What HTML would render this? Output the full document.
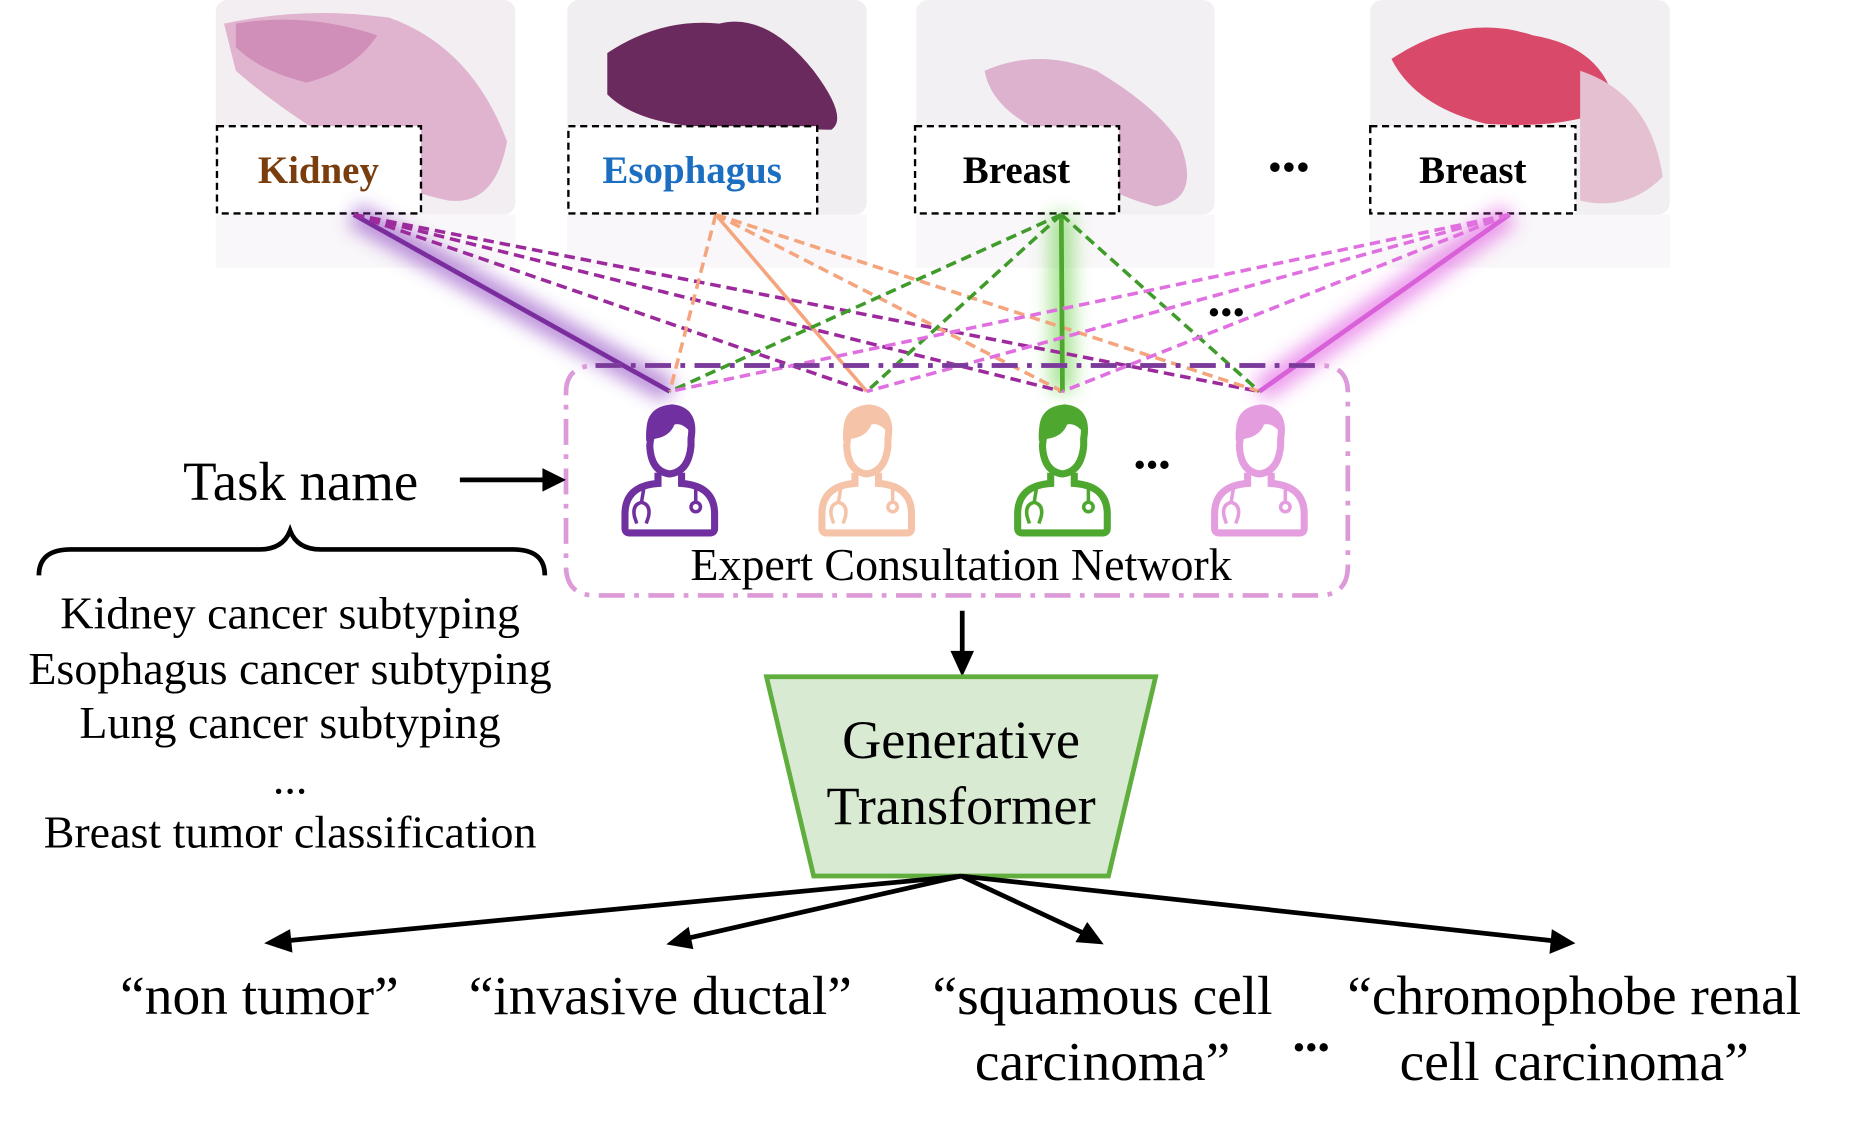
<!DOCTYPE html>
<html><head><meta charset="utf-8"><style>html,body{margin:0;padding:0;background:#fff}svg{display:block}</style></head><body>
<svg width="1849" height="1126" viewBox="0 0 1568 955" preserveAspectRatio="none" xmlns="http://www.w3.org/2000/svg" font-family="Liberation Serif, serif">
<defs>
<filter id="gl" x="-50%" y="-50%" width="200%" height="200%"><feGaussianBlur stdDeviation="8"/></filter>
<g id="doc">
 <path d="M-16,-48 Q-20,-70 2,-72 Q22,-70 18,-46 L18,-40 Q16,-18 0,-16 Q-16,-18 -17,-40 Z" fill="none" stroke="currentColor" stroke-width="6"/>
 <path d="M-20,-44 Q-22,-74 2,-74 Q24,-72 20,-48 Q12,-60 4,-58 Q0,-48 -12,-46 Z" fill="currentColor"/>
 <path d="M-10,-17 L-10,-8 Q-38,-6 -38,18 L-38,30 Q-38,34 -34,34 L34,34 Q38,34 38,30 L38,18 Q38,-6 10,-8 L10,-17" fill="none" stroke="currentColor" stroke-width="6"/>
 <path d="M-22,-4 L-24,8 Q-32,10 -30,20 L-28,26 M-24,8 Q-16,10 -18,20 L-20,26" fill="none" stroke="currentColor" stroke-width="3"/>
 <path d="M22,-4 L22,8" stroke="currentColor" stroke-width="3"/>
 <circle cx="22" cy="12" r="4" fill="none" stroke="currentColor" stroke-width="3"/>
</g>
</defs>
<g>
<rect x="183" y="0" width="254" height="182" rx="10" fill="#f2eef2"/>
<path d="M190,20 Q260,5 330,15 Q400,40 430,120 Q420,175 380,170 Q330,160 300,130 Q240,95 200,60 Z" fill="#e0b4cf"/>
<path d="M200,20 Q260,10 320,30 Q300,60 260,70 Q220,60 200,40Z" fill="#cf8fb8"/>
<rect x="481" y="0" width="254" height="182" rx="10" fill="#f1eef1"/>
<path d="M515,45 Q560,15 610,20 Q650,10 690,60 Q720,100 705,110 L600,108 Q540,105 515,80 Z" fill="#6b2a5e"/>
<rect x="777" y="0" width="253" height="182" rx="10" fill="#f3f0f3"/>
<path d="M835,60 Q880,40 930,60 Q980,90 1000,120 Q1020,170 980,175 Q920,160 880,110 Q840,90 835,60Z" fill="#dcb2cf"/>
<rect x="1162" y="0" width="254" height="182" rx="10" fill="#f1eff2"/>
<path d="M1180,50 Q1240,10 1300,30 Q1360,40 1370,90 Q1330,110 1260,105 Q1200,90 1180,50Z" fill="#d94a6a"/>
<path d="M1340,60 Q1400,80 1410,150 Q1380,180 1340,170 Z" fill="#e5c0d0"/>
<rect x="183" y="182" width="254" height="45" fill="#f6f4f6" opacity="0.7"/>
<rect x="481" y="182" width="254" height="45" fill="#f6f4f6" opacity="0.7"/>
<rect x="777" y="182" width="253" height="45" fill="#f6f4f6" opacity="0.7"/>
<rect x="1162" y="182" width="254" height="45" fill="#f6f4f6" opacity="0.7"/>
</g>
<g stroke="#000" stroke-width="2" stroke-dasharray="6,4" fill="#fff">
<rect x="184" y="107" width="173" height="74"/><rect x="482" y="107" width="211" height="74"/>
<rect x="776" y="107" width="173" height="74"/><rect x="1162" y="107" width="174" height="74"/>
</g>
<g font-size="33" font-weight="bold" text-anchor="middle">
<text x="270" y="155" fill="#7a3d0e">Kidney</text><text x="587" y="155" fill="#1c6fc0">Esophagus</text>
<text x="862" y="155">Breast</text><text x="1249" y="155">Breast</text>
</g>
<text x="1093" y="153" font-size="34" text-anchor="middle">•••</text>
<g filter="url(#gl)" stroke-width="20" opacity="0.6">
<line x1="300" y1="182" x2="568" y2="332" stroke="#8a3cc0"/>
<line x1="900" y1="182" x2="901" y2="332" stroke="#6ad04a"/>
<line x1="1280" y1="182" x2="1068" y2="332" stroke="#e050e0"/>
</g>
<g stroke-width="3" fill="none">
<line x1="300" y1="182" x2="568" y2="332" stroke="#7a2e9e" stroke-width="4"/>
<g stroke="#9c2a9c" stroke-dasharray="9,5"><line x1="300" y1="182" x2="735" y2="332"/><line x1="300" y1="182" x2="901" y2="332"/><line x1="300" y1="182" x2="1068" y2="332"/></g>
<line x1="607" y1="182" x2="735" y2="332" stroke="#f4a57d"/>
<g stroke="#f4a57d" stroke-dasharray="9,5"><line x1="607" y1="182" x2="568" y2="332"/><line x1="607" y1="182" x2="901" y2="332"/><line x1="607" y1="182" x2="1068" y2="332"/></g>
<line x1="900" y1="182" x2="901" y2="332" stroke="#4ea72e" stroke-width="4"/>
<g stroke="#3f9b2a" stroke-dasharray="9,5"><line x1="900" y1="182" x2="568" y2="332"/><line x1="900" y1="182" x2="735" y2="332"/><line x1="900" y1="182" x2="1068" y2="332"/></g>
<line x1="1280" y1="182" x2="1068" y2="332" stroke="#d860d8" stroke-width="4"/>
<g stroke="#e070e0" stroke-dasharray="9,5"><line x1="1280" y1="182" x2="568" y2="332"/><line x1="1280" y1="182" x2="735" y2="332"/><line x1="1280" y1="182" x2="901" y2="332"/></g>
</g>
<text x="1040" y="275" font-size="30" text-anchor="middle">•••</text>
<path d="M505,310 L1120,310 Q1143,310 1143,333 L1143,480 Q1143,505 1118,505 L505,505 Q480,505 480,480 L480,333 Q480,310 505,310Z" fill="none" stroke="#dd9ad8" stroke-width="4" stroke-dasharray="22,8,4,8"/>
<line x1="505" y1="310" x2="1120" y2="310" stroke="#7a3a9a" stroke-width="4" stroke-dasharray="22,8,4,8"/>
<use href="#doc" x="568" y="418" color="#7030a0"/>
<use href="#doc" x="735" y="418" color="#f5c4a8"/>
<use href="#doc" x="901" y="418" color="#4ea72e"/>
<use href="#doc" x="1068" y="418" color="#e49ddf"/>
<text x="977" y="404" font-size="30" text-anchor="middle">•••</text>
<text x="815" y="492" font-size="39" text-anchor="middle">Expert Consultation Network</text>
<text x="255" y="424" font-size="46.5" text-anchor="middle">Task name</text>
<line x1="390" y1="407" x2="462" y2="407" stroke="#000" stroke-width="4"/>
<path d="M480,407 L460,397 L460,417Z"/>
<path d="M33,488 Q33,466 60,466 L220,466 Q240,466 246,450 Q252,466 272,466 L435,466 Q462,466 462,488" fill="none" stroke="#000" stroke-width="4"/>
<g font-size="39" text-anchor="middle">
<text x="246" y="533">Kidney cancer subtyping</text>
<text x="246" y="580">Esophagus cancer subtyping</text>
<text x="246" y="626">Lung cancer subtyping</text>
<text x="246" y="673">...</text>
<text x="246" y="719">Breast tumor classification</text>
</g>
<line x1="816" y1="518" x2="816" y2="555" stroke="#000" stroke-width="4"/>
<path d="M816,574 L806,552 L826,552Z"/>
<path d="M650,574 L980,574 L940,743 L690,743Z" fill="#d9ead3" stroke="#5fae3e" stroke-width="4"/>
<g font-size="46" text-anchor="middle"><text x="815" y="643">Generative</text><text x="815" y="699">Transformer</text></g>
<g stroke="#000" stroke-width="4">
<line x1="815" y1="743" x2="242" y2="798"/><line x1="815" y1="743" x2="582" y2="796"/>
<line x1="815" y1="743" x2="920" y2="792"/><line x1="815" y1="743" x2="1318" y2="798"/>
</g>
<path d="M224,800 L246,788 L248,808Z"/><path d="M565,801 L584,786 L588,805Z"/>
<path d="M936,801 L912,799 L922,782Z"/><path d="M1336,800 L1314,809 L1316,788Z"/>
<g font-size="47" text-anchor="middle">
<text x="220" y="860">“non tumor”</text>
<text x="560" y="860">“invasive ductal”</text>
<text x="935" y="860">“squamous cell</text><text x="935" y="916">carcinoma”</text>
<text x="1335" y="860">“chromophobe renal</text><text x="1335" y="916">cell carcinoma”</text>
</g>
<text x="1112" y="898" font-size="30" text-anchor="middle">•••</text>
</svg>
</body></html>
